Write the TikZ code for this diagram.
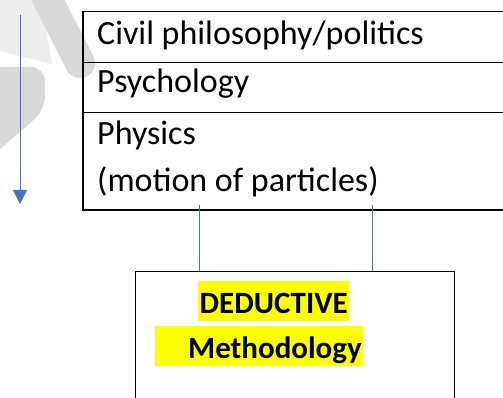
\documentclass[tikz,border=0pt]{standalone}
\usepackage{fontspec}
\setmainfont{Carlito}
\usetikzlibrary{arrows.meta,calc}
\definecolor{arrowblue}{HTML}{4472C4}
\definecolor{wmdark}{HTML}{D9D9D9}
\definecolor{wmlight}{HTML}{EDEDED}
\definecolor{hlyellow}{HTML}{FFFF00}
\begin{document}
\begin{tikzpicture}[x=1pt,y=-1pt,
  rowbox/.style={draw=black, line width=1.5pt, inner sep=0pt, anchor=north west, minimum width=460pt},
  rowtext/.style={font=\fontsize{34}{40}\selectfont, inner sep=0pt, anchor=base west},
  conn/.style={draw=arrowblue, line width=0.8pt},
  flowarrow/.style={draw=arrowblue, line width=1pt, -{Triangle[width=14pt,length=14pt]}},
  hl/.style={fill=hlyellow, inner xsep=1.5pt, inner ysep=0pt, minimum height=40pt,
             text height=32pt, text depth=8pt,
             font=\fontsize{31}{36}\selectfont\bfseries, anchor=north west},
  mainbox/.style={draw=black, line width=1.3pt, inner sep=0pt, anchor=north west,
             minimum width=319pt, minimum height=160pt}
]
\useasboundingbox (0,0) rectangle (503,398);
\fill[white] (0,0) rectangle (503,398);
% watermark shapes
\fill[wmlight] (-5,-5) -- (40,-5) -- (52,64) -- (-5,50) -- cycle;
\draw[wmdark, line width=30pt, line cap=round] (30,-35) -- (80,63);
\fill[wmdark, rounded corners=14pt] (-10,67) -- (45,67) -- (45,110) -- (-10,158) -- cycle;
% table rows
\node[rowbox, minimum height=51pt] (r1) at (82,11) {};
\node[rowbox, minimum height=50pt] (r2) at (82,62) {};
\node[rowbox, minimum height=97pt] (r3) at (82,112) {};
\node[rowtext] (t1) at (97,45) {Civil philosophy/politics};
\node[rowtext] (t2) at (97,93) {Psychology};
\node[rowtext] (t3) at (97,145) {Physics};
\node[rowtext] (t4) at (97,192) {(motion of particles)};
% left arrow
\coordinate (astart) at (20,15);
\coordinate (aend) at (20,204);
\draw[flowarrow] (astart) -- (aend);
% bottom box
\node[mainbox] (box) at (135,271) {};
\node[hl] (ded) at (198,281) {DEDUCTIVE};
\node[hl, text width=205pt, align=right] (meth) at (155,326) {Methodology};
% connectors
\coordinate (c1) at ($(r3.south west)+(117,-5)$);
\coordinate (c2) at ($(r3.south west)+(290,-5)$);
\draw[conn] (c1) -- (c1 |- box.north);
\draw[conn] (c2) -- (c2 |- box.north);
\end{tikzpicture}
\end{document}
